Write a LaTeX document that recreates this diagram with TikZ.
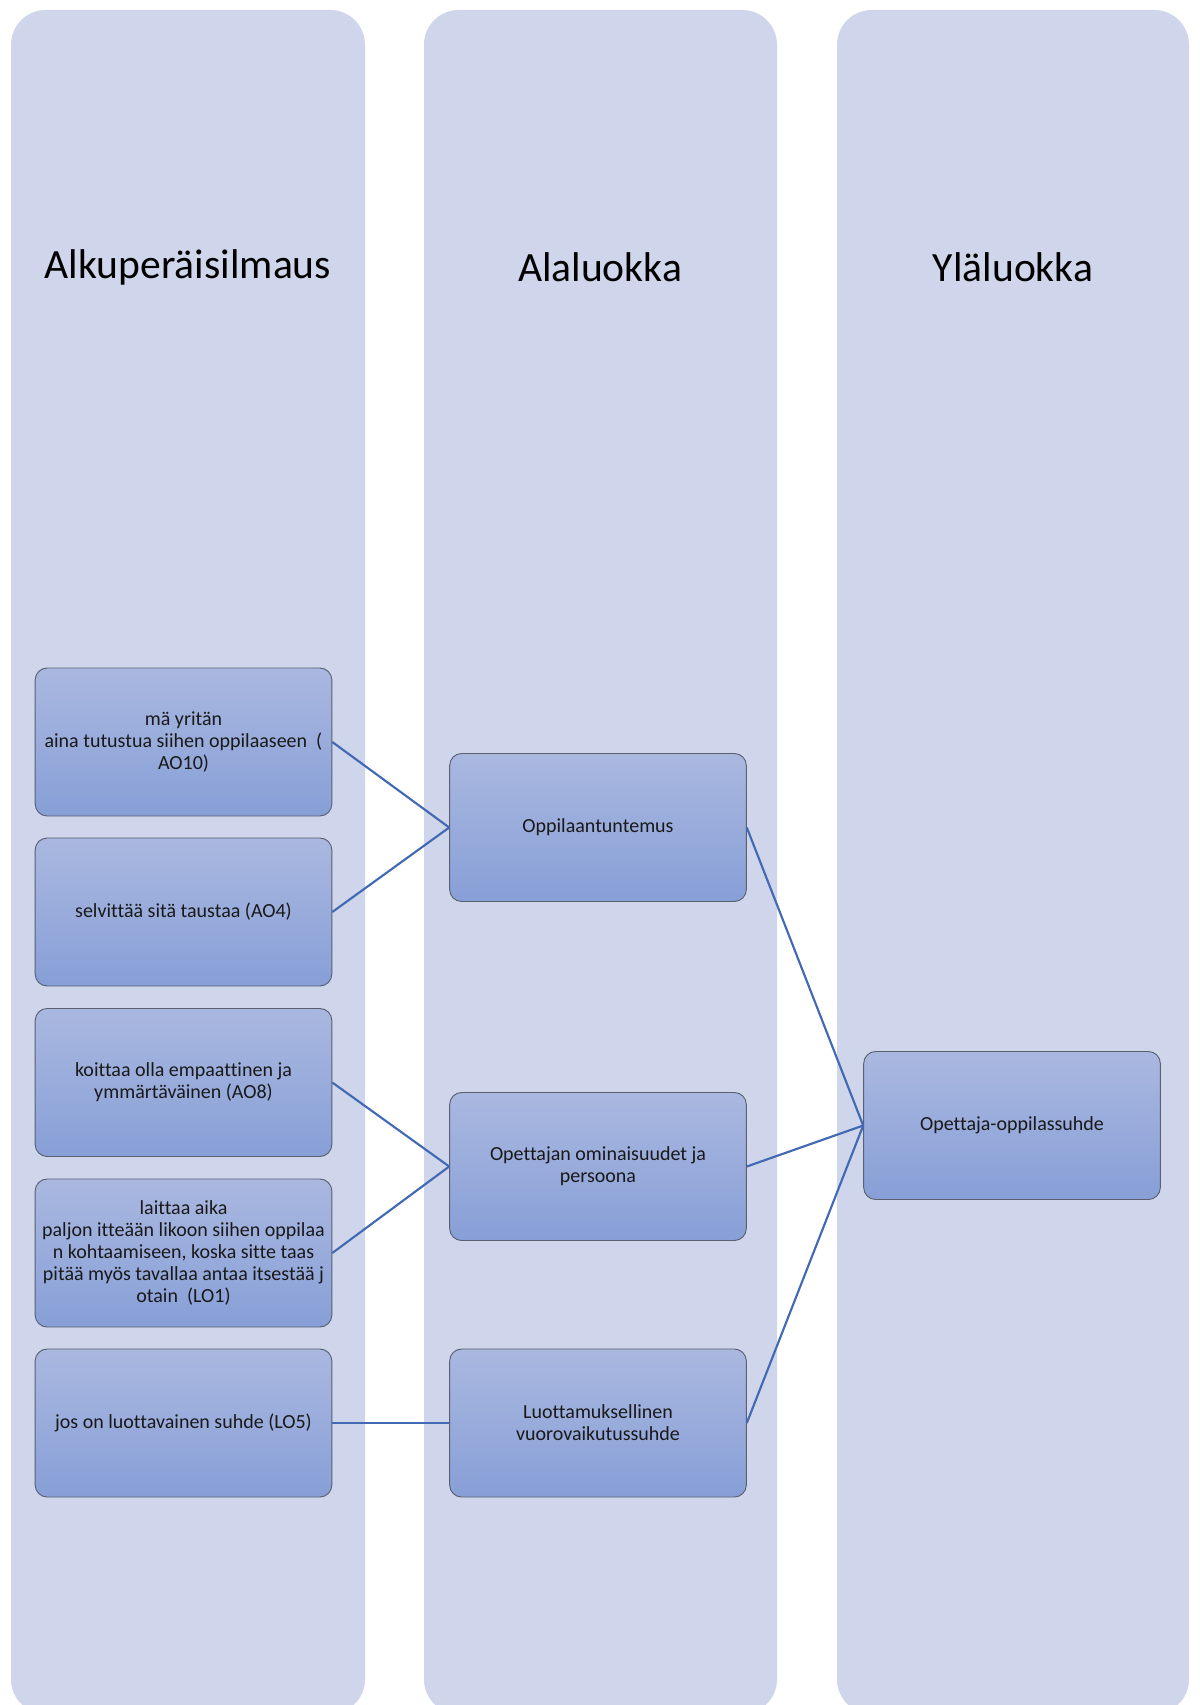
\documentclass[tikz,border=0pt]{standalone}
\usepackage{fontspec}
\setmainfont{Carlito}[Ligatures={NoCommon}]
\definecolor{lanefill}{HTML}{CFD5EA}
\definecolor{boxtop}{HTML}{AAB8E0}
\definecolor{boxbot}{HTML}{879FD7}
\definecolor{boxedge}{HTML}{5A6070}
\definecolor{linkblue}{HTML}{4169B4}
\begin{document}
\begin{tikzpicture}[
  x=0.75pt, y=-0.75pt,
  lane/.style={fill=lanefill, rounded corners=26pt},
  lanehead/.style={font=\fontsize{31.2}{37}\selectfont, text=black},
  itembox/.style={draw=boxedge, line width=0.7pt, rounded corners=9pt,
    top color=boxtop, bottom color=boxbot,
    minimum width=222.5pt, minimum height=111pt, align=center,
    inner sep=1pt, text=black!90,
    font=\fontsize{15}{16.5}\selectfont},
  link/.style={draw=linkblue, line width=1.6pt}
]
\useasboundingbox (0,0) rectangle (1199,1705);
\clip (0,0) rectangle (1199,1705);

% three lanes
\fill[lane] (11,10) rectangle (365,1714);
\fill[lane] (424,10) rectangle (777,1714);
\fill[lane] (837,10) rectangle (1189,1714);

% lane titles
\node[lanehead] (t1) at (188,267) {Alkuperäisilmaus};
\node[lanehead] (t2) at (600,267) {Alaluokka};
\node[lanehead] (t3) at (1013,267) {Yläluokka};

% original expressions
\node[itembox] (a1) at (183.5,742) {mä yritän\\aina tutustua siihen oppilaaseen~~(\\AO10)};
\node[itembox] (a2) at (183.5,912) {selvittää sitä taustaa (AO4)};
\node[itembox] (a3) at (183.5,1082.5) {koittaa olla empaattinen ja\\ymmärtäväinen (AO8)};
\node[itembox] (a4) at (183.5,1253) {laittaa aika\\paljon itteään likoon siihen oppilaa\\n kohtaamiseen, koska sitte taas\\pitää myös tavallaa antaa itsestää j\\otain~~(LO1)};
\node[itembox] (a5) at (183.5,1423) {jos on luottavainen suhde (LO5)};

% subcategories
\node[itembox] (b1) at (598,827.5) {Oppilaantuntemus};
\node[itembox] (b2) at (598,1166.5) {Opettajan ominaisuudet ja\\persoona};
\node[itembox] (b3) at (598,1423) {Luottamuksellinen\\vuorovaikutussuhde};

% main category
\node[itembox] (c1) at (1012,1125.5) {Opettaja-oppilassuhde};

% connectors
\draw[link] (a1.east) -- (b1.west);
\draw[link] (a2.east) -- (b1.west);
\draw[link] (a3.east) -- (b2.west);
\draw[link] (a4.east) -- (b2.west);
\draw[link] (a5.east) -- (b3.west);
\draw[link] (b1.east) -- (c1.west);
\draw[link] (b2.east) -- (c1.west);
\draw[link] (b3.east) -- (c1.west);
\end{tikzpicture}
\end{document}
